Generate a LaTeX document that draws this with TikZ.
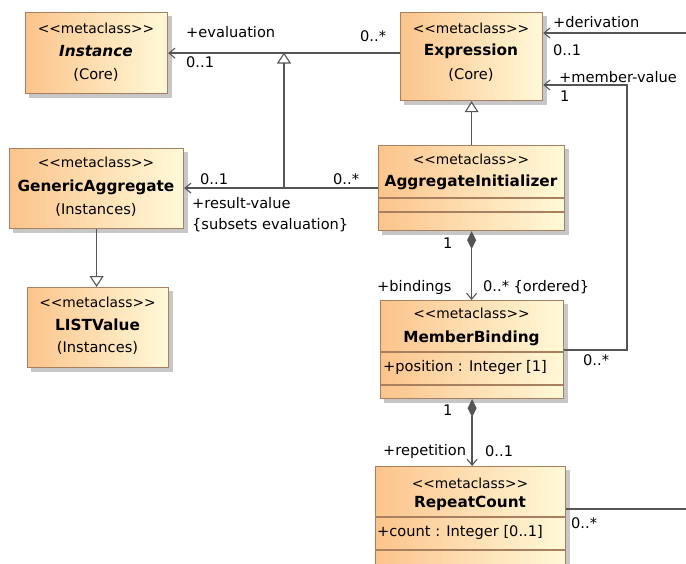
\documentclass[tikz,border=0pt]{standalone}
\usepackage{fontspec}
\setmainfont{DejaVu Sans}
\usetikzlibrary{arrows.meta,backgrounds}
\definecolor{clsA}{RGB}{252,196,140}
\definecolor{clsB}{RGB}{255,249,216}
\definecolor{clsBorder}{RGB}{168,128,96}
\definecolor{wirec}{RGB}{85,85,85}
\newcommand{\mcls}{<\kern0pt<metaclass>\kern0pt>}
\tikzset{
  cls/.style={draw=clsBorder, line width=1.2pt, left color=clsA, right color=clsB, inner sep=0pt, anchor=north west},
  stereo/.style={font=\fontsize{13.8}{16}\selectfont, inner sep=0pt},
  cname/.style={font=\fontsize{15.3}{18}\selectfont\bfseries, inner sep=0pt},
  pkg/.style={font=\fontsize{14.6}{17}\selectfont, inner sep=0pt},
  lbl/.style={font=\fontsize{14.6}{17}\selectfont, inner sep=0pt, anchor=west},
  divider/.style={draw=clsBorder, line width=1.2pt},
  wire/.style={draw=wirec, line width=1.5pt},
  nav/.style={wire, -{Straight Barb[length=6pt,width=10pt,line width=1.1pt]}},
  genarrow/.style={wire, -{Triangle[open,length=11pt,width=14pt,fill=white,line width=1.1pt]}},
  comp/.style={wire, {Diamond[length=18pt,width=9pt,fill=wirec]}-{Straight Barb[length=6pt,width=10pt,line width=1.1pt]}},
  shadowbox/.style={fill=black, opacity=0.22},
}
\begin{document}
\begin{tikzpicture}[x=1pt,y=-1pt]
\useasboundingbox (0,0) rectangle (686,563);
\clip (0,0) rectangle (686,563);
% classes
\node[cls, minimum width=142pt, minimum height=81pt] (inst) at (25,12) {};
\node[cls, minimum width=142pt, minimum height=88pt] (expr) at (400,12) {};
\node[cls, minimum width=174pt, minimum height=80pt] (gen) at (9,148) {};
\node[cls, minimum width=141pt, minimum height=80pt] (list) at (27,287) {};
\node[cls, minimum width=186pt, minimum height=85pt] (agg) at (378,145) {};
\node[cls, minimum width=183pt, minimum height=98pt] (mb) at (380,300) {};
\node[cls, minimum width=190pt, minimum height=130pt] (rc) at (375,466) {};
% shadows
\begin{scope}[on background layer]
\foreach \n in {inst,expr,gen,list,agg,mb,rc}{
  \fill[shadowbox] ([shift={(3.5pt,-3.5pt)}]\n.south west) rectangle ([shift={(3.5pt,-3.5pt)}]\n.north east);
}
\end{scope}
% class texts
\node[stereo] (instS) at (96,28) {\mcls};
\node[cname, font=\fontsize{15.3}{18}\selectfont\bfseries\itshape] (instN) at (96,51) {Instance};
\node[pkg] (instP) at (96,75) {(Core)};
\node[stereo] (exprS) at (471,28) {\mcls};
\node[cname] (exprN) at (471,51) {Expression};
\node[pkg] (exprP) at (471,75) {(Core)};
\node[stereo] (genS) at (96,162) {\mcls};
\node[cname] (genN) at (96,187) {GenericAggregate};
\node[pkg] (genP) at (96,210) {(Instances)};
\node[stereo] (listS) at (97.5,302) {\mcls};
\node[cname] (listN) at (97.5,325) {LISTValue};
\node[pkg] (listP) at (97.5,348) {(Instances)};
\node[stereo] (aggS) at (471,159) {\mcls};
\node[cname] (aggN) at (471,182) {AggregateInitializer};
\draw[divider] (378,198) -- (564,198);
\draw[divider] (378,212) -- (564,212);
\node[stereo] (mbS) at (471.5,313) {\mcls};
\node[cname] (mbN) at (471.5,338) {MemberBinding};
\draw[divider] (380,352) -- (563,352);
\node[lbl] (mbA) at (383,367) {+position : Integer [1]};
\draw[divider] (380,385) -- (563,385);
\node[stereo] (rcS) at (470,483) {\mcls};
\node[cname] (rcN) at (470,503) {RepeatCount};
\draw[divider] (375,517) -- (565,517);
\node[lbl] (rcA) at (377,532) {+count : Integer [0..1]};
\draw[divider] (375,550) -- (565,550);
% connectors
\draw[nav] (inst.east -| expr.west) -- (inst.east);
\coordinate (gb) at (284,187.5);
\coordinate (gt) at (284,52.5);
\draw[genarrow] (gb) -- (gt);
\coordinate (dv) at (686,33);
\draw[nav] (dv) -- (dv -| expr.east);
\coordinate (mvc) at (627,350);
\coordinate (mvt) at (627,85);
\draw[nav] (mb.east |- mvc) -- (mvc) -- (mvt) -- (mvt -| expr.east);
\draw[genarrow] (agg.north) -- (expr.south);
\draw[nav] (agg.west) -- (agg.west -| gen.east);
\draw[genarrow] (gen.south) -- (gen.south |- list.north);
\draw[comp] (agg.south) -- (agg.south |- mb.north);
\draw[comp] (mb.south) -- (mb.south |- rc.north);
\coordinate (rcr) at (686,509);
\draw[wire] (rcr -| rc.east) -- (rcr);
% labels
\node[lbl] (l1) at (186,32) {+evaluation};
\node[lbl] (l2) at (186,62) {0..1};
\node[lbl] (l3) at (360,36) {0..*};
\node[lbl] (l4) at (553,22) {+derivation};
\node[lbl] (l5) at (553,50) {0..1};
\node[lbl] (l6) at (559,77) {+member-value};
\node[lbl] (l7) at (560,96) {1};
\node[lbl] (l8) at (583,360) {0..*};
\node[lbl] (l9) at (200,179) {0..1};
\node[lbl] (l10) at (333,179) {0..*};
\node[lbl] (l11) at (192,203) {+result-value};
\node[lbl] (l12) at (192,225) {\{subsets evaluation\}};
\node[lbl] (l13) at (443,243) {1};
\node[lbl] (l14) at (377,287) {+bindings};
\node[lbl] (l15) at (483,287) {0..* \{ordered\}};
\node[lbl] (l16) at (443,410) {1};
\node[lbl] (l17) at (383,451) {+repetition};
\node[lbl] (l18) at (485,451) {0..1};
\node[lbl] (l19) at (571,523) {0..*};
\end{tikzpicture}
\end{document}
